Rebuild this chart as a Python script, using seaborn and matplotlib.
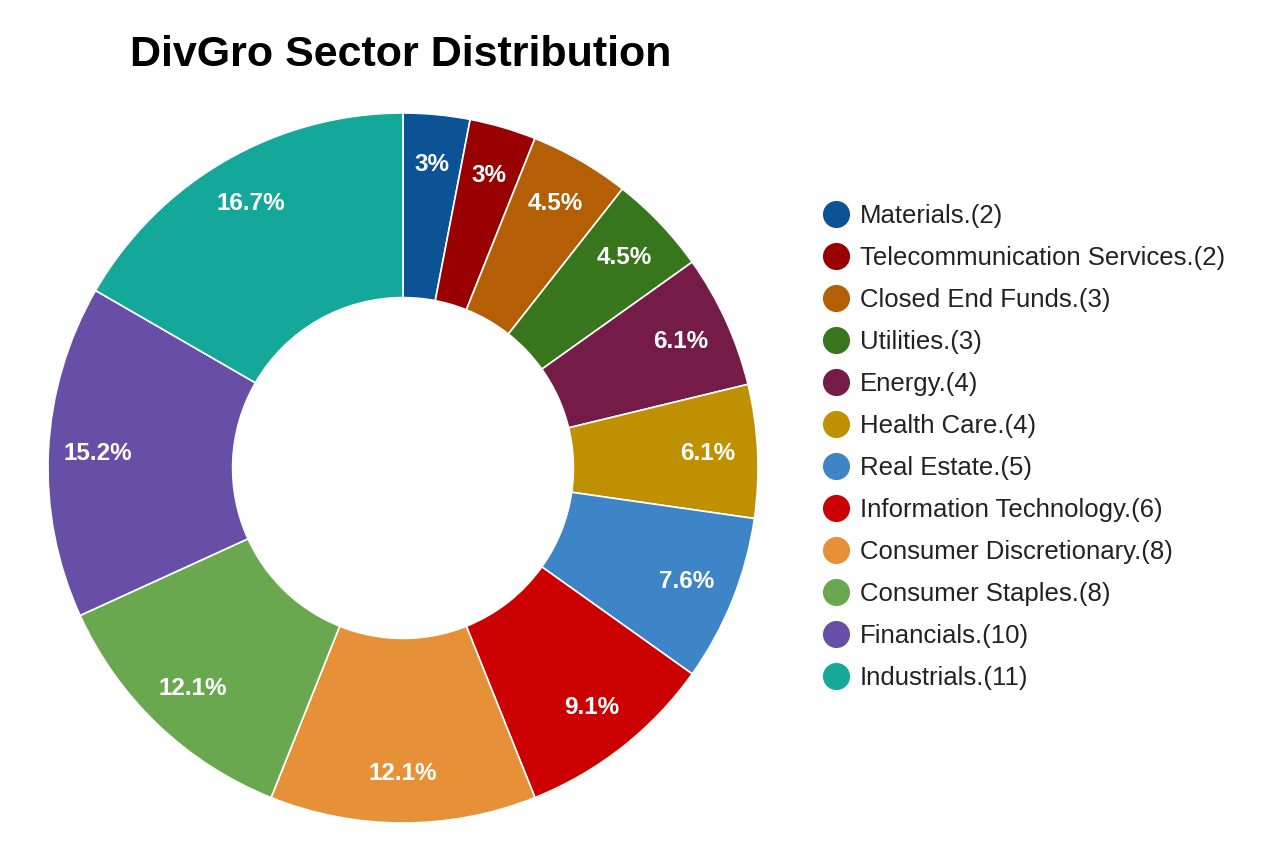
import seaborn as sns
import matplotlib.pyplot as plt
from matplotlib.lines import Line2D

# sector counts, in drawing order (clockwise from 12 o'clock)
sectors = ['Materials', 'Telecommunication Services', 'Closed End Funds', 'Utilities',
           'Energy', 'Health Care', 'Real Estate', 'Information Technology',
           'Consumer Discretionary', 'Consumer Staples', 'Financials', 'Industrials']
counts = [2, 2, 3, 3, 4, 4, 5, 6, 8, 8, 10, 11]
colors = ['#0b5394', '#990000', '#b45f06', '#38761d', '#741b47', '#bf9000',
          '#3d85c6', '#cc0000', '#e69138', '#6aa84f', '#674ea7', '#13a89a']

sns.set_theme(style='white')
plt.rcParams['font.family'] = ['Liberation Sans', 'DejaVu Sans']

fig = plt.figure(figsize=(12.8, 8.67), dpi=100)
ax = fig.add_axes([0.0375, 0.0507, 0.5547, 0.819])


def fmt(p):
    s = f'{p:.1f}'
    return s[:-2] + '%' if s.endswith('.0') else s + '%'


wedges, texts, autotexts = ax.pie(
    counts, colors=colors, startangle=90, counterclock=False, radius=1,
    autopct=fmt, pctdistance=0.86,
    wedgeprops=dict(width=0.52, edgecolor='white', linewidth=1.2),
    textprops=dict(color='white', fontsize=17.5, fontweight='bold'))
ax.set_xlim(-1, 1)
ax.set_ylim(-1, 1)
ax.set_aspect('equal')

handles = [Line2D([], [], marker='o', linestyle='', markersize=18.5,
                  markerfacecolor=c, markeredgecolor=c) for c in colors]
labels = [f'{s}.({n})' for s, n in zip(sectors, counts)]
fig.legend(handles, labels, loc='upper left', bbox_to_anchor=(0.643, 0.765),
           frameon=False, fontsize=18.5, labelspacing=0.70, handlelength=1.0,
           handletextpad=0.43, borderpad=0, borderaxespad=0, labelcolor='#222222')

fig.text(0.1016, 0.937, 'DivGro Sector Distribution', fontsize=31, fontweight='bold',
         color='black', ha='left', va='center')

fig.savefig('out.png', dpi=100)
